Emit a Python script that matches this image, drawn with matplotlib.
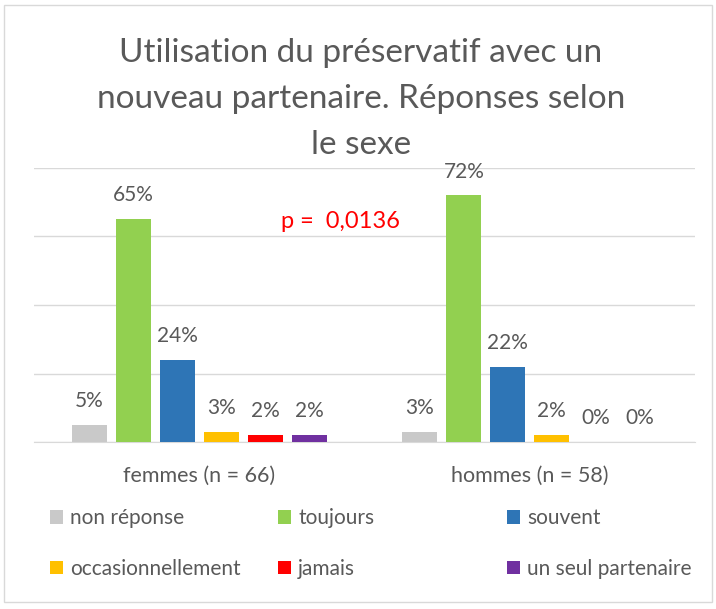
import matplotlib
matplotlib.use("Agg")
import matplotlib.pyplot as plt
from matplotlib.patches import Rectangle, Patch
import numpy as np

groups = ["femmes (n = 66)", "hommes (n = 58)"]
series = ["non réponse", "toujours", "souvent", "occasionnellement", "jamais", "un seul partenaire"]
values = {
    "non réponse": [5, 3],
    "toujours": [65, 72],
    "souvent": [24, 22],
    "occasionnellement": [3, 2],
    "jamais": [2, 0],
    "un seul partenaire": [2, 0],
}
colors = ["#C9C9C9", "#92D050", "#2E75B6", "#FFC000", "#FF0000", "#7030A0"]
title = "Utilisation du préservatif avec un\nnouveau partenaire. Réponses selon\nle sexe"
p_text = "p =  0,0136"

plt.rcParams['font.family'] = ['Lato', 'DejaVu Sans']
TXT = "#595959"

fig = plt.figure(figsize=(7.16, 6.09), dpi=100)
fig.patch.set_facecolor("white")
ax = fig.add_axes([34/716, 1-442/609, 661/716, 274/609])

step = 0.133
width = 0.106
x = np.arange(len(groups))
n = len(series)
for i, s in enumerate(series):
    pos = x + (i - (n-1)/2) * step
    bars = ax.bar(pos, values[s], width, color=colors[i], label=s, zorder=3)
    for xp, v in zip(pos, values[s]):
        ax.annotate(f"{v}%", (xp, v), xytext=(0, 10), textcoords="offset points",
                    ha="center", va="bottom", fontsize=15, color=TXT)

ax.set_xlim(-0.5, 1.5)
ax.set_ylim(0, 80)
ax.set_yticks([0, 20, 40, 60, 80])
ax.yaxis.grid(True, color="#D9D9D9", linewidth=1, zorder=0)
ax.tick_params(axis="y", left=False, labelleft=False)
ax.set_xticks(x)
ax.set_xticklabels(groups, fontsize=15.5, color=TXT)
ax.tick_params(axis="x", length=0, pad=17)
for sp in ["top", "right", "left"]:
    ax.spines[sp].set_visible(False)
ax.spines["bottom"].set_color("#D9D9D9")
ax.set_facecolor("none")

ax.text(0.426, 64.5, p_text, color="#FF0000", fontsize=17, ha="center", va="center")

fig.text(361/716, 1-99/609, title, ha="center", va="center", fontsize=24,
         color=TXT, linespacing=1.68)

handles = [Patch(facecolor=c) for c in colors]
col_x = [42, 270, 499]
for j in range(3):
    leg = fig.legend([handles[j], handles[j+3]], [series[j], series[j+3]],
                     loc="upper left", bbox_to_anchor=(col_x[j]/716, 1-500/609),
                     frameon=False, fontsize=15, handlelength=0.6, handleheight=0.6,
                     handletextpad=0.35, labelspacing=1.46, borderaxespad=0,
                     labelcolor=TXT)

fig.add_artist(Rectangle((4/716, 7/609), 708/716, 597/609, transform=fig.transFigure,
                         fill=False, edgecolor="#D9D9D9", linewidth=1))

fig.savefig("out.png", dpi=100)
